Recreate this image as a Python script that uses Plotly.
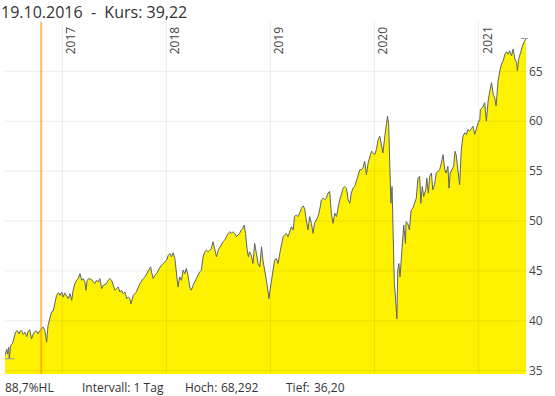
import plotly.graph_objects as go
import pandas as pd

# ---- data ----
dates_2016 = ["2016-06-14","2016-06-20","2016-06-23","2016-06-27","2016-06-29","2016-07-04","2016-07-10",
              "2016-07-16","2016-07-21","2016-07-27","2016-08-02","2016-08-06","2016-08-11","2016-08-17",
              "2016-08-23","2016-08-29","2016-09-03","2016-09-09","2016-09-15","2016-09-21","2016-09-27",
              "2016-10-03","2016-10-08","2016-10-14","2016-10-19","2016-10-26","2016-11-01","2016-11-07",
              "2016-11-12","2016-11-18","2016-11-24","2016-11-30","2016-12-06","2016-12-12","2016-12-18",
              "2016-12-24","2016-12-30"]
kurs_2016 = [36.51,37.18,36.68,37.35,36.20,37.52,37.69,
             38.42,38.86,39.03,38.69,38.96,39.03,38.63,
             38.86,38.42,38.96,39.10,38.19,38.69,38.93,
             38.96,38.69,39.03,39.22,39.37,39.03,37.85,
             39.53,40.37,40.88,40.98,41.88,42.55,42.82,
             42.55,42.89]

dates_2017 = ["2017-01-04","2017-01-10","2017-01-16","2017-01-22","2017-01-28","2017-02-03","2017-02-08",
              "2017-02-14","2017-02-20","2017-02-26","2017-03-04","2017-03-10","2017-03-15","2017-03-21",
              "2017-03-25","2017-03-29","2017-04-05","2017-04-14","2017-04-19","2017-04-25","2017-05-01",
              "2017-05-07","2017-05-13","2017-05-19","2017-05-25","2017-06-05","2017-06-11","2017-06-17",
              "2017-06-23","2017-06-29","2017-07-05","2017-07-10","2017-07-16","2017-07-22","2017-07-28",
              "2017-08-03","2017-08-09","2017-08-15","2017-08-20","2017-08-26","2017-08-30","2017-09-07",
              "2017-09-18","2017-09-30","2017-10-06","2017-10-12","2017-10-18","2017-10-30","2017-11-07",
              "2017-11-10","2017-11-16","2017-11-22","2017-11-28","2017-12-04","2017-12-10","2017-12-15",
              "2017-12-21","2017-12-27"]
kurs_2017 = [42.38,42.79,42.55,42.22,42.72,42.05,43.06,
             43.73,44.06,44.23,44.73,44.06,44.23,43.90,
             43.06,44.06,44.23,44.13,43.90,43.73,44.06,
             43.90,44.23,43.22,43.56,43.73,44.06,44.23,
             44.06,43.56,43.06,43.22,43.39,42.89,43.06,
             42.72,42.89,42.22,42.38,42.22,41.70,42.55,
             42.89,43.73,44.06,44.23,44.40,45.07,45.41,
             44.90,44.23,44.57,44.73,45.07,45.41,45.57,
             45.74,45.91]

dates_2018 = ["2018-01-02","2018-01-08","2018-01-14","2018-01-19","2018-01-25","2018-01-31","2018-02-06",
              "2018-02-11","2018-02-17","2018-02-23","2018-03-01","2018-03-07","2018-03-12","2018-03-18",
              "2018-03-24","2018-03-30","2018-04-05","2018-04-11","2018-04-17","2018-04-23","2018-04-28",
              "2018-05-04","2018-05-10","2018-05-16","2018-05-22","2018-05-28","2018-06-03","2018-06-08",
              "2018-06-14","2018-06-20","2018-06-26","2018-07-02","2018-07-08","2018-07-13","2018-07-19",
              "2018-07-25","2018-07-31","2018-08-06","2018-08-12","2018-08-17","2018-08-23","2018-08-29",
              "2018-09-04","2018-09-10","2018-09-15","2018-09-21","2018-09-27","2018-10-01","2018-10-06",
              "2018-10-11","2018-10-16","2018-10-20","2018-10-26","2018-11-01","2018-11-07","2018-11-13",
              "2018-11-19","2018-11-25","2018-12-01","2018-12-06","2018-12-12","2018-12-18","2018-12-24",
              "2018-12-27","2018-12-30"]
kurs_2018 = [46.08,46.58,46.75,46.41,46.82,46.25,44.40,
             43.39,44.40,44.06,45.07,44.73,45.24,44.57,
             43.39,43.06,43.56,43.90,44.23,44.57,44.90,
             45.07,46.41,46.92,47.08,46.92,47.08,47.25,
             47.92,47.25,46.41,47.08,47.42,47.59,47.92,
             48.09,48.43,48.76,48.93,48.76,48.93,48.76,
             48.43,48.59,48.76,49.10,49.27,49.60,48.76,
             47.25,46.41,46.92,46.58,45.74,47.76,46.75,
             45.74,45.41,47.42,46.08,45.24,44.06,42.89,
             42.22,42.89]

dates_2019 = ["2019-01-05","2019-01-10","2019-01-16","2019-01-22","2019-01-28","2019-02-03","2019-02-09",
              "2019-02-15","2019-02-20","2019-02-26","2019-03-04","2019-03-10","2019-03-16","2019-03-22",
              "2019-03-27","2019-04-02","2019-04-08","2019-04-14","2019-04-20","2019-04-26","2019-05-01",
              "2019-05-07","2019-05-13","2019-05-19","2019-05-25","2019-05-31","2019-06-05","2019-06-11",
              "2019-06-17","2019-06-23","2019-06-29","2019-07-05","2019-07-11","2019-07-16","2019-07-22",
              "2019-07-28","2019-08-03","2019-08-09","2019-08-15","2019-08-21","2019-08-27","2019-09-01",
              "2019-09-07","2019-09-13","2019-09-19","2019-09-25","2019-10-01","2019-10-07","2019-10-12",
              "2019-10-18","2019-10-24","2019-10-30","2019-11-05","2019-11-11","2019-11-16","2019-11-22",
              "2019-11-28","2019-12-04","2019-12-10","2019-12-16","2019-12-22","2019-12-28"]
kurs_2019 = [43.89,44.73,46.08,46.24,45.74,46.75,47.76,
             48.43,48.60,48.76,48.43,48.93,49.43,49.10,
             50.44,50.61,50.44,50.78,51.28,51.51,51.28,
             50.10,49.10,50.44,49.77,48.76,49.77,50.10,
             50.44,51.11,52.12,52.29,52.12,52.29,52.79,
             52.96,50.78,49.77,50.78,50.44,51.45,52.12,
             52.62,53.29,53.46,53.29,52.12,51.78,52.79,
             53.29,53.46,53.96,54.47,55.14,55.14,55.31,
             55.98,54.64,55.81,56.32,56.99,56.82]

dates_2020 = ["2020-01-02","2020-01-08","2020-01-14","2020-01-20","2020-01-26","2020-01-31","2020-02-06",
              "2020-02-12","2020-02-16","2020-02-20","2020-02-25","2020-02-28","2020-03-03","2020-03-08",
              "2020-03-11","2020-03-15","2020-03-20","2020-03-23","2020-03-27","2020-03-31","2020-04-04",
              "2020-04-10","2020-04-13","2020-04-19","2020-04-21","2020-04-27","2020-05-03","2020-05-09",
              "2020-05-15","2020-05-21","2020-05-27","2020-06-02","2020-06-08","2020-06-12","2020-06-17",
              "2020-06-22","2020-06-29","2020-07-03","2020-07-08","2020-07-13","2020-07-19","2020-07-24",
              "2020-07-30","2020-08-05","2020-08-11","2020-08-17","2020-08-23","2020-08-29","2020-09-04",
              "2020-09-09","2020-09-15","2020-09-19","2020-09-23","2020-09-30","2020-10-05","2020-10-10",
              "2020-10-14","2020-10-20","2020-10-26","2020-11-01","2020-11-07","2020-11-13","2020-11-19",
              "2020-11-24","2020-11-30","2020-12-06","2020-12-12","2020-12-18","2020-12-24","2020-12-30"]
kurs_2020 = [56.65,57.15,58.16,58.50,57.66,56.82,58.33,
             60.01,60.51,59.70,55.81,51.78,53.46,47.08,
             43.73,42.38,40.20,45.07,45.74,44.40,46.41,
             48.76,49.60,47.76,49.94,49.77,49.10,51.11,
             51.28,51.78,52.29,54.30,54.47,51.78,53.46,
             52.45,53.13,54.30,52.79,54.47,54.81,53.13,
             53.63,54.81,54.97,55.14,55.81,56.65,55.14,
             54.81,55.48,53.29,54.81,55.14,55.48,56.99,
             56.65,55.14,53.63,57.16,58.50,58.83,58.67,
             59.17,59.00,59.24,59.50,58.67,59.34,59.84]

dates_2021 = ["2021-01-05","2021-01-07","2021-01-14","2021-01-22","2021-01-28","2021-02-03","2021-02-09",
              "2021-02-15","2021-02-21","2021-02-26","2021-03-03","2021-03-06","2021-03-10","2021-03-16",
              "2021-03-22","2021-03-28","2021-04-03","2021-04-09","2021-04-14","2021-04-20","2021-04-26",
              "2021-05-02","2021-05-08","2021-05-14","2021-05-17","2021-05-21","2021-05-26","2021-06-01",
              "2021-06-06","2021-06-12","2021-06-16"]
kurs_2021 = [60.18,61.18,61.35,61.85,60.01,62.02,63.03,
             63.87,62.69,62.36,61.52,63.20,64.04,65.04,
             65.72,66.05,66.72,66.96,66.72,67.06,66.55,
             67.23,66.22,65.88,65.04,66.22,66.72,67.23,
             67.73,68.07,68.29]

year_ticks = ["2017-01-01", "2018-01-01", "2019-01-01", "2020-01-01", "2021-01-01"]
year_labels = ["2017", "2018", "2019", "2020", "2021"]
y_ticks = [35, 40, 45, 50, 55, 60, 65]

MARK_DATE = "2016-10-19"
MARK_KURS = "39,22"
HOCH = 68.292
TIEF = 36.20
HOCH_TXT = "68,292"
TIEF_TXT = "36,20"
HL_TXT = "88,7%HL"
INTERVALL_TXT = "Intervall: 1 Tag"

dates = dates_2016 + dates_2017 + dates_2018 + dates_2019 + dates_2020 + dates_2021
kurs = kurs_2016 + kurs_2017 + kurs_2018 + kurs_2019 + kurs_2020 + kurs_2021

X_RANGE = ["2016-06-14", "2021-06-23"]
Y_RANGE = [34.67, 69.94]

fig = go.Figure()
fig.add_trace(go.Scatter(
    x=dates, y=kurs, mode="lines",
    line=dict(color="#5d636c", width=1),
    fill="tozeroy", fillcolor="#FFF200",
    hoverinfo="skip", showlegend=False,
))

grid_col = "rgba(0,0,0,0.075)"
shapes = []
for yv in y_ticks:
    shapes.append(dict(type="line", xref="paper", yref="y", x0=0, x1=1, y0=yv, y1=yv,
                       line=dict(color=grid_col, width=1), layer="above"))
for xv in year_ticks:
    shapes.append(dict(type="line", xref="x", yref="paper", x0=xv, x1=xv, y0=0, y1=1,
                       line=dict(color=grid_col, width=1), layer="above"))

# marker of selected date
shapes.append(dict(type="line", xref="x", yref="paper", x0=MARK_DATE, x1=MARK_DATE, y0=0, y1=1,
                   line=dict(color="rgba(255,140,0,0.6)", width=2), layer="above"))

# high / low markers
s = pd.Series(kurs, index=pd.to_datetime(dates))
d_hi = s.idxmax()
d_lo = s.idxmin()
span = pd.Timedelta(days=18)
shapes.append(dict(type="line", xref="x", yref="y", x0=d_hi - span, x1=d_hi + span, y0=HOCH, y1=HOCH,
                   line=dict(color="#9a9a9a", width=1), layer="above"))
shapes.append(dict(type="line", xref="x", yref="y", x0=d_lo - span, x1=d_lo + span, y0=TIEF, y1=TIEF,
                   line=dict(color="#9a9a9a", width=1), layer="above"))

annotations = []
for xv, lab in zip(year_ticks, year_labels):
    annotations.append(dict(x=xv, xref="x", y=1, yref="paper", text=lab, textangle=-90,
                            showarrow=False, xanchor="center", yanchor="middle",
                            xshift=8.5, yshift=-18.5,
                            font=dict(size=12, color="#444")))

nb = "\u00a0"
annotations.append(dict(x=0, xref="paper", y=1, yref="paper", xanchor="left", yanchor="middle",
                        xshift=-6, yshift=10, showarrow=False,
                        text=f"19.10.2016{nb}{nb}-{nb}{nb}Kurs:{nb}{MARK_KURS}",
                        font=dict(size=16, color="#333")))

bottom = [(-2, HL_TXT), (74.7, INTERVALL_TXT), (178, "Hoch:"), (213.7, HOCH_TXT),
          (279, "Tief:"), (307, TIEF_TXT)]
for dx, txt in bottom:
    annotations.append(dict(x=0, xref="paper", y=0, yref="paper", xanchor="left", yanchor="middle",
                            xshift=dx, yshift=-13, showarrow=False, text=txt,
                            font=dict(size=12, color="#333")))

fig.update_layout(
    width=555, height=396,
    margin=dict(l=5, r=27, t=22, b=22),
    paper_bgcolor="white", plot_bgcolor="white",
    font=dict(family="Open Sans", size=12, color="#444"),
    xaxis=dict(range=X_RANGE, type="date", showgrid=False, zeroline=False, showline=False,
               showticklabels=False, ticks=""),
    yaxis=dict(range=Y_RANGE, side="right", tickvals=y_ticks, showgrid=False, zeroline=False,
               showline=False, ticks="", tickfont=dict(size=12, color="#444")),
    shapes=shapes, annotations=annotations,
)

fig.write_html("out.html", config={"displayModeBar": False},
               post_script="document.body.style.margin='0';document.body.style.overflow='hidden';")
